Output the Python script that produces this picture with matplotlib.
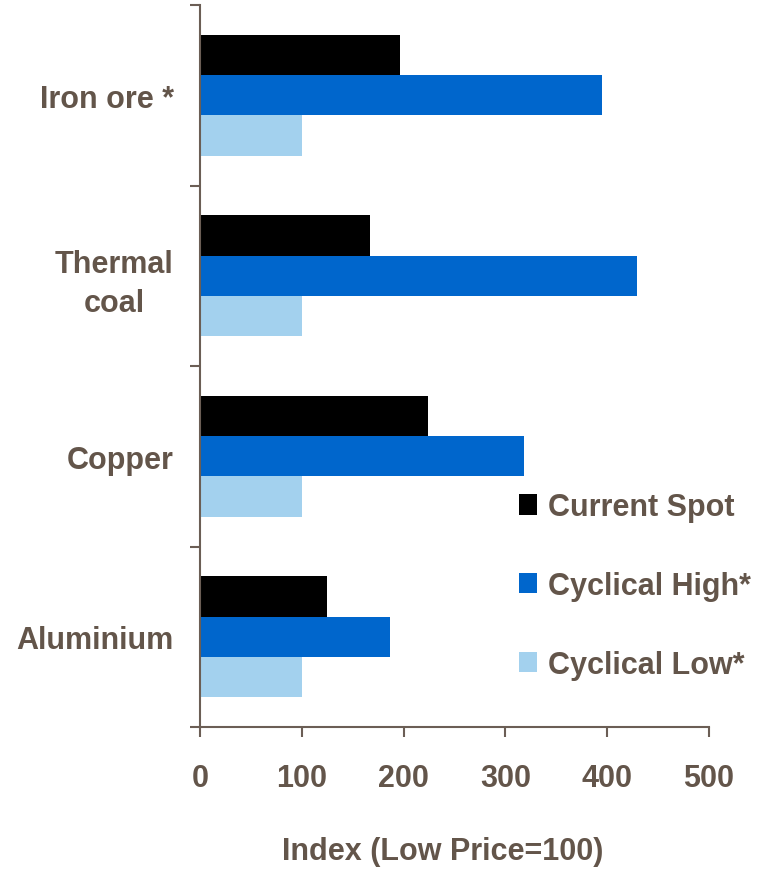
import matplotlib
matplotlib.use("Agg")
import matplotlib.pyplot as plt
import numpy as np

# Data
categories = ["Iron ore *", "Thermal\ncoal", "Copper", "Aluminium"]
series_names = ["Current Spot", "Cyclical High*", "Cyclical Low*"]
current_spot = [196, 167, 224, 125]
cyclical_high = [395, 429, 318, 187]
cyclical_low = [100, 100, 100, 100]
x_ticks = [0, 100, 200, 300, 400, 500]

colors = ["#000000", "#0066CC", "#A3D1EE"]
text_color = "#63554A"
axis_color = "#6B5E55"

plt.rcParams["font.family"] = ["Liberation Sans", "DejaVu Sans"]
plt.rcParams["font.weight"] = "bold"

fig = plt.figure(figsize=(7.63, 8.70), dpi=100)
ax = fig.add_axes([200 / 763, 1 - 728 / 870, 509 / 763, 722 / 870])

centers = np.arange(len(categories)) + 0.5
bar_h = 0.224
offsets = [-bar_h, 0, bar_h]
for vals, off, col, name in zip([current_spot, cyclical_high, cyclical_low],
                                offsets, colors, series_names):
    ax.barh(centers + off, vals, height=bar_h, color=col, label=name,
            edgecolor="none")

ax.set_xlim(0, 500)
ax.set_ylim(len(categories), 0)

# category boundary ticks, labels on minor ticks at centers
ax.set_yticks(np.arange(len(categories) + 1))
ax.set_yticklabels([])
ax.set_yticks(centers, minor=True)
ax.set_yticklabels(categories, minor=True, fontsize=22, fontweight="bold",
                   color=text_color)
for lab in ax.get_yticklabels(minor=True):
    lab.set_multialignment("center")
    lab.set_linespacing(1.4)
ax.tick_params(axis="y", which="minor", length=0, pad=19)
ax.tick_params(axis="y", which="major", length=7, width=1.5, color=axis_color,
               direction="out")

ax.set_xticks(x_ticks)
ax.set_xticklabels([str(t) for t in x_ticks], fontsize=22, fontweight="bold",
                   color=text_color)
ax.tick_params(axis="x", length=7, width=1.5, color=axis_color,
               direction="out", pad=19)

for s in ["top", "right"]:
    ax.spines[s].set_visible(False)
for s in ["left", "bottom"]:
    ax.spines[s].set_color(axis_color)
    ax.spines[s].set_linewidth(1.5)

leg = fig.legend(loc="center left", bbox_to_anchor=(519 / 763, 1 - 587 / 870),
                 frameon=False, fontsize=22, handlelength=0.6,
                 handleheight=0.65, handletextpad=0.35, labelspacing=1.6,
                 borderpad=0, borderaxespad=0)
for t in leg.get_texts():
    t.set_color(text_color)
    t.set_fontweight("bold")

fig.text(443 / 763, 1 - 852 / 870, "Index (Low Price=100)", ha="center",
         va="center", fontsize=22, fontweight="bold", color=text_color)

fig.savefig("out.png", dpi=100)
